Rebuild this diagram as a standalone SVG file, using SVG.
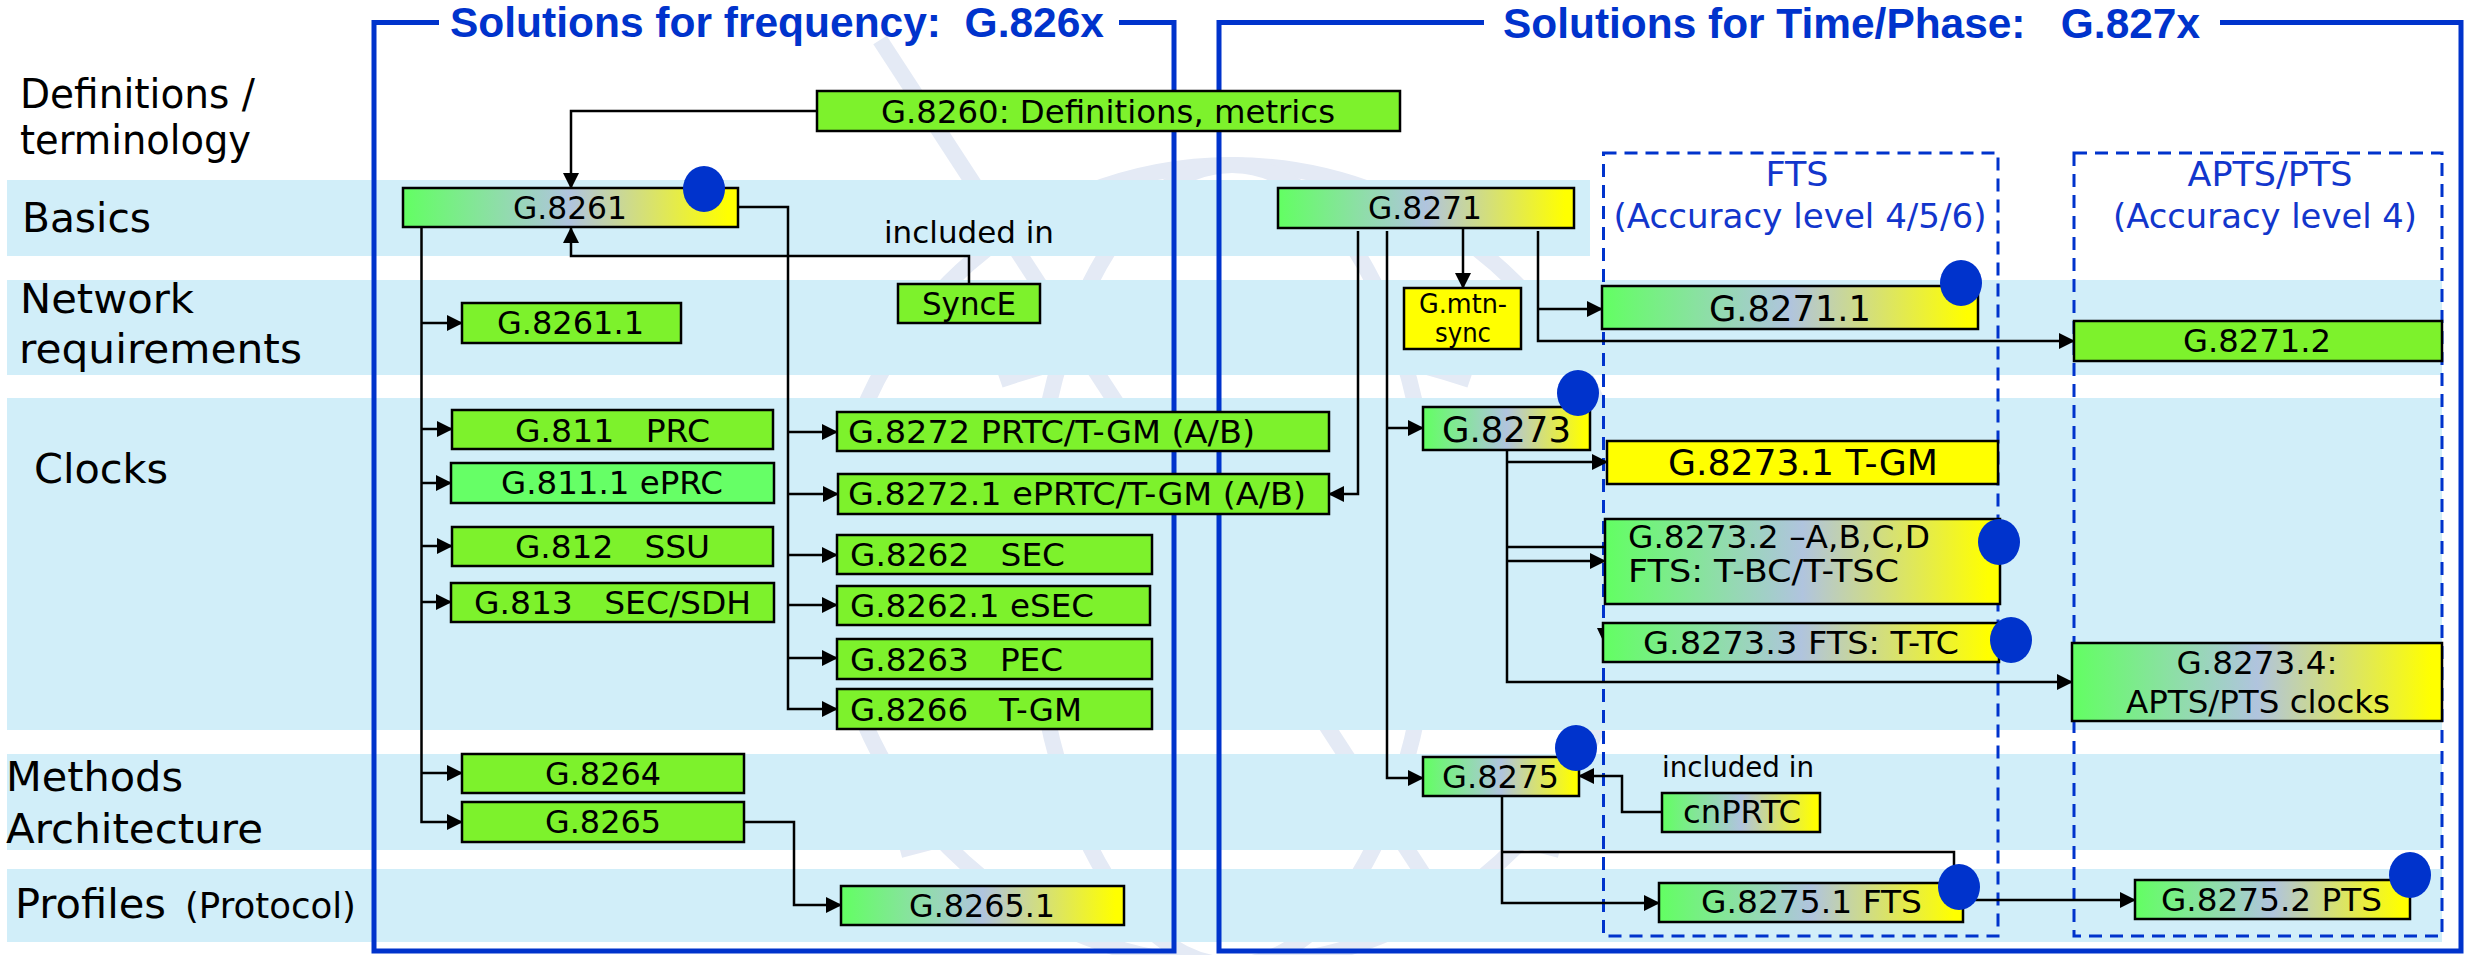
<svg xmlns="http://www.w3.org/2000/svg" width="2466" height="955" viewBox="0 0 2466 955">
  <style>
    .band { fill: #D1EEF9; }
    .wm { fill: none; stroke: #E4EAF5; stroke-width: 16; }
    .frame { fill: none; stroke: #0033CC; stroke-width: 5; }
    .title { font-family: "Liberation Sans", Arial, sans-serif; font-weight: bold; font-size: 42px; fill: #0033CC; white-space: pre; }
    .lbl { font-family: "DejaVu Sans", Verdana, sans-serif; font-size: 41px; fill: #000; }
    .t { font-family: "DejaVu Sans", Verdana, sans-serif; font-size: 32px; fill: #000; white-space: pre; }
    .c { text-anchor: middle; }
    .box { stroke: #000; stroke-width: 2.5; }
    .g { fill: #7DF22C; }
    .lg { fill: #66FF66; }
    .y { fill: #FFFF00; }
    .gr { fill: url(#grad); }
    .dot { fill: #0033CC; }
    .conn { fill: none; stroke: #000; stroke-width: 2.5; }
    .arr { marker-end: url(#ah); }
    .dash { fill: none; stroke: #0033CC; stroke-width: 3; stroke-dasharray: 13 8; }
    .blue { font-family: "DejaVu Sans", Verdana, sans-serif; font-size: 34px; fill: #1236CC; text-anchor: middle; }
  </style>
  <defs>
    <linearGradient id="grad" x1="0" y1="0" x2="1" y2="0">
      <stop offset="0" stop-color="#62FF62"/>
      <stop offset="0.5" stop-color="#B0C4DE"/>
      <stop offset="0.97" stop-color="#FFFF00"/>
    </linearGradient>
    <marker id="ah" markerWidth="16" markerHeight="16" refX="15" refY="8" orient="auto" markerUnits="userSpaceOnUse">
      <path d="M0,0 L16,8 L0,16 Z" fill="#000"/>
    </marker>
  </defs>

  <rect width="2466" height="955" fill="#FFFFFF"/>

  <!-- faint globe emblem in the background -->
  <g id="watermark" class="wm">
    <circle cx="1232" cy="565" r="400"/>
    <ellipse cx="1232" cy="565" rx="200" ry="400"/>
    <path d="M880,40 L1440,900"/>
    <path d="M1000,380 Q1232,300 1470,380"/>
    <path d="M900,850 Q1232,760 1560,850"/>
  </g>

  <!-- row bands -->
  <g id="bands">
    <rect class="band" x="7" y="180" width="1583" height="76"/>
    <rect class="band" x="7" y="280" width="2435" height="95"/>
    <rect class="band" x="7" y="398" width="2435" height="332"/>
    <rect class="band" x="7" y="754" width="2435" height="96"/>
    <rect class="band" x="7" y="869" width="2435" height="73"/>
  </g>

  <!-- row labels -->
  <g id="labels">
    <text class="lbl" x="20" y="108" textLength="235" lengthAdjust="spacingAndGlyphs">Definitions /</text>
    <text class="lbl" x="20" y="154" textLength="231" lengthAdjust="spacingAndGlyphs">terminology</text>
    <text class="lbl" x="22" y="232" textLength="129" lengthAdjust="spacingAndGlyphs">Basics</text>
    <text class="lbl" x="20" y="313" textLength="174" lengthAdjust="spacingAndGlyphs">Network</text>
    <text class="lbl" x="19" y="363" textLength="283" lengthAdjust="spacingAndGlyphs">requirements</text>
    <text class="lbl" x="34" y="483" textLength="134" lengthAdjust="spacingAndGlyphs">Clocks</text>
    <text class="lbl" x="6" y="791" textLength="177" lengthAdjust="spacingAndGlyphs">Methods</text>
    <text class="lbl" x="6" y="843" textLength="257" lengthAdjust="spacingAndGlyphs">Architecture</text>
    <text class="lbl" x="15" y="918" textLength="151" lengthAdjust="spacingAndGlyphs">Profiles</text>
    <text class="lbl" x="185" y="918" style="font-size:35px" textLength="171" lengthAdjust="spacingAndGlyphs">(Protocol)</text>
  </g>

  <!-- solution frames -->
  <g id="frame-frequency">
    <path class="frame" d="M439,22.5 H374 V951 H1174 V22.5 H1119"/>
    <text class="title" x="450" y="37" textLength="654" lengthAdjust="spacingAndGlyphs" xml:space="preserve">Solutions for frequency:  G.826x</text>
  </g>
  <g id="frame-timephase">
    <path class="frame" d="M1484,22.5 H1219 V951 H2461 V22.5 H2220"/>
    <text class="title" x="1503" y="38" textLength="697" lengthAdjust="spacingAndGlyphs" xml:space="preserve">Solutions for Time/Phase:   G.827x</text>
  </g>

  <!-- accuracy level groups -->
  <g id="group-fts">
    <rect class="dash" x="1603.5" y="153" width="394.5" height="783"/>
    <text class="blue" x="1797" y="186" textLength="63" lengthAdjust="spacingAndGlyphs">FTS</text>
    <text class="blue" x="1800" y="228" textLength="373" lengthAdjust="spacingAndGlyphs">(Accuracy level 4/5/6)</text>
  </g>
  <g id="group-apts">
    <rect class="dash" x="2074" y="153" width="368" height="783"/>
    <text class="blue" x="2270" y="186" textLength="165" lengthAdjust="spacingAndGlyphs">APTS/PTS</text>
    <text class="blue" x="2265" y="228" textLength="304" lengthAdjust="spacingAndGlyphs">(Accuracy level 4)</text>
  </g>

  <!-- connectors -->
  <g id="connectors">
    <polyline class="conn arr" points="817,111 571,111 571,188"/>
    <polyline class="conn arr" points="969,284 969,256 571,256 571,228"/>
    <text class="t" x="884" y="243" style="font-size:31px" textLength="170" lengthAdjust="spacingAndGlyphs">included in</text>

    <polyline class="conn arr" points="421.5,227 421.5,822 462,822"/>
    <line class="conn arr" x1="421.5" y1="323" x2="462" y2="323"/>
    <line class="conn arr" x1="421.5" y1="429" x2="452" y2="429"/>
    <line class="conn arr" x1="421.5" y1="483" x2="451" y2="483"/>
    <line class="conn arr" x1="421.5" y1="546" x2="452" y2="546"/>
    <line class="conn arr" x1="421.5" y1="602" x2="451" y2="602"/>
    <line class="conn arr" x1="421.5" y1="773" x2="462" y2="773"/>

    <polyline class="conn arr" points="738,207 788,207 788,709 837,709"/>
    <line class="conn arr" x1="788" y1="432" x2="837" y2="432"/>
    <line class="conn arr" x1="788" y1="494" x2="838" y2="494"/>
    <line class="conn arr" x1="788" y1="555" x2="837" y2="555"/>
    <line class="conn arr" x1="788" y1="605" x2="837" y2="605"/>
    <line class="conn arr" x1="788" y1="658" x2="837" y2="658"/>

    <polyline class="conn arr" points="744,822 794,822 794,905 841,905"/>

    <polyline class="conn arr" points="1358,231 1358,494 1329,494"/>
    <polyline class="conn arr" points="1387,231 1387,778 1423,778"/>
    <line class="conn arr" x1="1387" y1="428" x2="1423" y2="428"/>
    <line class="conn arr" x1="1463" y1="228" x2="1463" y2="288"/>
    <polyline class="conn arr" points="1538,231 1538,341 2074,341"/>
    <line class="conn arr" x1="1538" y1="309" x2="1602" y2="309"/>

    <polyline class="conn arr" points="1507,450 1507,682 2072,682"/>
    <line class="conn arr" x1="1507" y1="462" x2="1607" y2="462"/>
    <line class="conn" x1="1507" y1="547" x2="1605" y2="547"/>
    <line class="conn arr" x1="1507" y1="561" x2="1605" y2="561"/>
    <polygon points="1597,628 1604,628 1604,643" fill="#000"/>

    <polyline class="conn arr" points="1662,812 1622,812 1622,776 1579,776"/>
    <text class="t" x="1662" y="777" style="font-size:28px" textLength="152" lengthAdjust="spacingAndGlyphs">included in</text>
    <polyline class="conn arr" points="1502,796 1502,903 1659,903"/>
    <polyline class="conn" points="1502,852 1954,852 1954,866"/>
    <line class="conn arr" x1="1963" y1="900" x2="2135" y2="900"/>
  </g>

  <!-- frequency recommendations -->
  <g id="n-g8261">
    <rect class="box gr" x="403" y="188" width="335" height="39"/>
    <text class="t c" x="570" y="219" textLength="114" lengthAdjust="spacingAndGlyphs">G.8261</text>
    <ellipse class="dot" cx="704" cy="189" rx="21" ry="23"/>
  </g>
  <g id="n-g8261-1">
    <rect class="box g" x="462" y="303" width="219" height="40"/>
    <text class="t c" x="570.5" y="334" textLength="147" lengthAdjust="spacingAndGlyphs">G.8261.1</text>
  </g>
  <g id="n-g811">
    <rect class="box g" x="452" y="410" width="321" height="39"/>
    <text class="t c" x="612.5" y="442" textLength="195" lengthAdjust="spacingAndGlyphs" xml:space="preserve">G.811   PRC</text>
  </g>
  <g id="n-g811-1">
    <rect class="box lg" x="451" y="463" width="323" height="40"/>
    <text class="t c" x="612" y="494" textLength="222" lengthAdjust="spacingAndGlyphs">G.811.1 ePRC</text>
  </g>
  <g id="n-g812">
    <rect class="box g" x="452" y="527" width="321" height="39"/>
    <text class="t c" x="612.5" y="558" textLength="195" lengthAdjust="spacingAndGlyphs" xml:space="preserve">G.812   SSU</text>
  </g>
  <g id="n-g813">
    <rect class="box g" x="451" y="583" width="323" height="39"/>
    <text class="t c" x="612.5" y="614" textLength="277" lengthAdjust="spacingAndGlyphs" xml:space="preserve">G.813   SEC/SDH</text>
  </g>
  <g id="n-g8264">
    <rect class="box g" x="462" y="754" width="282" height="39"/>
    <text class="t c" x="603" y="785" textLength="116" lengthAdjust="spacingAndGlyphs">G.8264</text>
  </g>
  <g id="n-g8265">
    <rect class="box g" x="462" y="802" width="282" height="40"/>
    <text class="t c" x="603" y="833" textLength="116" lengthAdjust="spacingAndGlyphs">G.8265</text>
  </g>
  <g id="n-g8265-1">
    <rect class="box gr" x="841" y="886" width="283" height="39"/>
    <text class="t c" x="982" y="917" textLength="146" lengthAdjust="spacingAndGlyphs">G.8265.1</text>
  </g>

  <g id="n-g8260">
    <rect class="box g" x="817" y="91" width="583" height="40"/>
    <text class="t c" x="1108" y="123" textLength="454" lengthAdjust="spacingAndGlyphs">G.8260: Definitions, metrics</text>
  </g>
  <g id="n-synce">
    <rect class="box g" x="898" y="284" width="142" height="39"/>
    <text class="t c" x="969" y="315" textLength="94" lengthAdjust="spacingAndGlyphs">SyncE</text>
  </g>
  <g id="n-g8272">
    <rect class="box g" x="837" y="412" width="492" height="39"/>
    <text class="t" x="848" y="443" textLength="407" lengthAdjust="spacingAndGlyphs">G.8272 PRTC/T-GM (A/B)</text>
  </g>
  <g id="n-g8272-1">
    <rect class="box g" x="838" y="474" width="491" height="40"/>
    <text class="t" x="848" y="505" textLength="458" lengthAdjust="spacingAndGlyphs">G.8272.1 ePRTC/T-GM (A/B)</text>
  </g>
  <g id="n-g8262">
    <rect class="box g" x="837" y="535" width="315" height="39"/>
    <text class="t" x="850" y="566" textLength="215" lengthAdjust="spacingAndGlyphs" xml:space="preserve">G.8262   SEC</text>
  </g>
  <g id="n-g8262-1">
    <rect class="box g" x="837" y="586" width="313" height="39"/>
    <text class="t" x="850" y="617" textLength="244" lengthAdjust="spacingAndGlyphs">G.8262.1 eSEC</text>
  </g>
  <g id="n-g8263">
    <rect class="box g" x="837" y="639" width="315" height="40"/>
    <text class="t" x="850" y="671" textLength="213" lengthAdjust="spacingAndGlyphs" xml:space="preserve">G.8263   PEC</text>
  </g>
  <g id="n-g8266">
    <rect class="box g" x="837" y="689" width="315" height="40"/>
    <text class="t" x="850" y="721" textLength="232" lengthAdjust="spacingAndGlyphs" xml:space="preserve">G.8266   T-GM</text>
  </g>

  <!-- time/phase recommendations -->
  <g id="n-g8271">
    <rect class="box gr" x="1278" y="188" width="296" height="40"/>
    <text class="t c" x="1425" y="219" textLength="114" lengthAdjust="spacingAndGlyphs">G.8271</text>
  </g>
  <g id="n-gmtn-sync">
    <rect class="box y" x="1404" y="288" width="117" height="61"/>
    <text class="t c" x="1463" y="313" style="font-size:26px" textLength="88" lengthAdjust="spacingAndGlyphs">G.mtn-</text>
    <text class="t c" x="1463" y="342" style="font-size:26px" textLength="56" lengthAdjust="spacingAndGlyphs">sync</text>
  </g>
  <g id="n-g8271-1">
    <rect class="box gr" x="1602" y="286" width="376" height="43"/>
    <text class="t c" x="1790" y="321" style="font-size:35px" textLength="162" lengthAdjust="spacingAndGlyphs">G.8271.1</text>
    <ellipse class="dot" cx="1961" cy="283" rx="21" ry="23"/>
  </g>
  <g id="n-g8271-2">
    <rect class="box g" x="2074" y="321" width="368" height="40"/>
    <text class="t c" x="2257" y="352" textLength="148" lengthAdjust="spacingAndGlyphs">G.8271.2</text>
  </g>
  <g id="n-g8273">
    <rect class="box gr" x="1423" y="407" width="167" height="43"/>
    <text class="t c" x="1506.5" y="442" style="font-size:35px" textLength="129" lengthAdjust="spacingAndGlyphs">G.8273</text>
    <ellipse class="dot" cx="1578" cy="393" rx="21" ry="23"/>
  </g>
  <g id="n-g8273-1">
    <rect class="box y" x="1607" y="441" width="391" height="43"/>
    <text class="t c" x="1803" y="475" style="font-size:36px" textLength="270" lengthAdjust="spacingAndGlyphs">G.8273.1 T-GM</text>
  </g>
  <g id="n-g8273-2">
    <rect class="box gr" x="1605" y="519" width="395" height="85"/>
    <text class="t" x="1628" y="548" textLength="302" lengthAdjust="spacingAndGlyphs">G.8273.2 –A,B,C,D</text>
    <text class="t" x="1628" y="582" textLength="271" lengthAdjust="spacingAndGlyphs">FTS: T-BC/T-TSC</text>
    <ellipse class="dot" cx="1999" cy="542" rx="21" ry="23"/>
  </g>
  <g id="n-g8273-3">
    <rect class="box gr" x="1603" y="623" width="396" height="39"/>
    <text class="t" x="1643" y="654" textLength="316" lengthAdjust="spacingAndGlyphs">G.8273.3 FTS: T-TC</text>
    <ellipse class="dot" cx="2011" cy="640" rx="21" ry="23"/>
  </g>
  <g id="n-g8273-4">
    <rect class="box gr" x="2072" y="643" width="370" height="78"/>
    <text class="t c" x="2257" y="674" textLength="161" lengthAdjust="spacingAndGlyphs">G.8273.4:</text>
    <text class="t c" x="2258" y="713" textLength="264" lengthAdjust="spacingAndGlyphs">APTS/PTS clocks</text>
  </g>
  <g id="n-g8275">
    <rect class="box gr" x="1423" y="757" width="156" height="39"/>
    <text class="t c" x="1500.5" y="788" textLength="117" lengthAdjust="spacingAndGlyphs">G.8275</text>
    <ellipse class="dot" cx="1576" cy="748" rx="21" ry="23"/>
  </g>
  <g id="n-cnprtc">
    <rect class="box gr" x="1662" y="793" width="158" height="39"/>
    <text class="t c" x="1742" y="823" textLength="118" lengthAdjust="spacingAndGlyphs">cnPRTC</text>
  </g>
  <g id="n-g8275-1">
    <rect class="box gr" x="1659" y="883" width="304" height="39"/>
    <text class="t c" x="1811.5" y="913" textLength="221" lengthAdjust="spacingAndGlyphs">G.8275.1 FTS</text>
    <ellipse class="dot" cx="1959" cy="887" rx="21" ry="23"/>
  </g>
  <g id="n-g8275-2">
    <rect class="box gr" x="2135" y="880" width="275" height="39"/>
    <text class="t c" x="2271.5" y="911" textLength="221" lengthAdjust="spacingAndGlyphs">G.8275.2 PTS</text>
    <ellipse class="dot" cx="2410" cy="875" rx="21" ry="23"/>
  </g>
</svg>
